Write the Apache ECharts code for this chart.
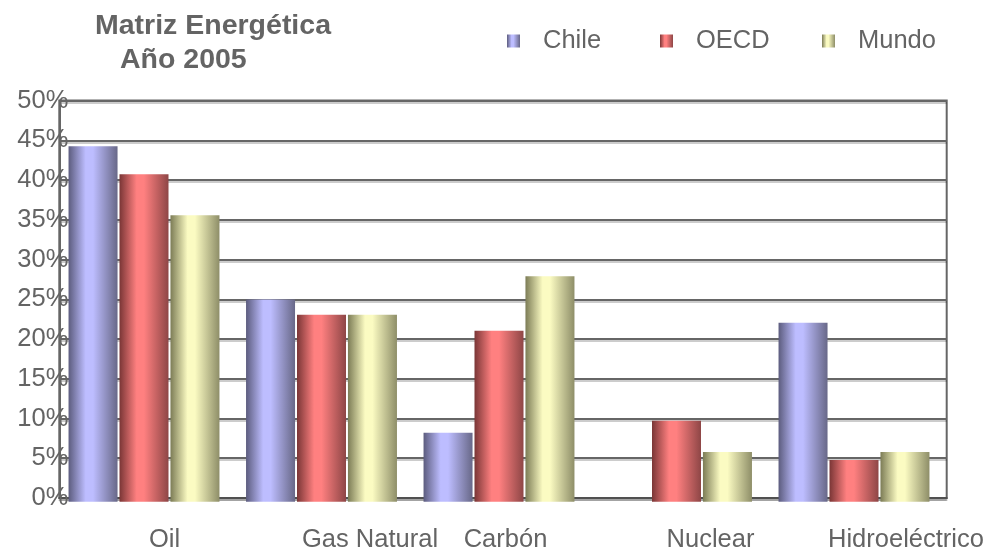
<!DOCTYPE html>
<html>
<head>
<meta charset="utf-8">
<title>Matriz Energética Año 2005</title>
<script src="https://cdn.jsdelivr.net/npm/echarts@6/dist/echarts.min.js"></script>
<style>
  html, body { margin: 0; padding: 0; background: #fff; }
  #chart { width: 992px; height: 553px; }
</style>
</head>
<body>
<div id="chart"></div>
<script>
// Energy mix by source, 2005 (share of total, %)
const categories = ['Oil', 'Gas Natural', 'Carbón', 'Nuclear', 'Hidroeléctrico'];
const seriesNames = ['Chile', 'OECD', 'Mundo'];
const chile = [44.3, 25.2, 8.6, 0, 22.3];
const oecd = [40.8, 23.3, 21.3, 10.1, 5.2];
const mundo = [35.7, 23.3, 28.1, 6.2, 6.2];
const yTicks = [0, 5, 10, 15, 20, 25, 30, 35, 40, 45, 50];

const FONT = 'Liberation Sans, Arial, sans-serif';
const TEXT = '#646464';
const LINE = '#666666';

// Horizontal cylinder-like shading for each series
function shade(dark, light, mid) {
  return new echarts.graphic.LinearGradient(0, 0, 1, 0, [
    { offset: 0, color: dark },
    { offset: 0.35, color: light },
    { offset: 0.5, color: light },
    { offset: 1, color: mid }
  ]);
}
const fills = [
  shade('#5c5c7e', '#bdbdff', '#686888'),
  shade('#7a3636', '#ff8080', '#8e4646'),
  shade('#7c7c56', '#fbfbc2', '#8e8e68')
];
const values = [chile, oecd, mundo];

// Per-label horizontal nudge of the category captions (px of left padding)
const labelShift = [33, 89, 5, 60, 96];
const rich = {};
labelShift.forEach((p, i) => {
  rich['c' + i] = { fontFamily: FONT, fontSize: 25.5, color: TEXT, padding: [0, 0, 0, p] };
});

const chart = echarts.init(document.getElementById('chart'), null, { renderer: 'canvas' });

const titleStyle = { fontFamily: FONT, fontWeight: 'bold', fontSize: 28.5, color: TEXT };

const option = {
  animation: false,
  backgroundColor: '#ffffff',
  title: [
    { text: 'Matriz Energética', left: 95, top: 12, padding: 0, textStyle: titleStyle },
    { text: 'Año 2005', left: 120, top: 46, padding: 0, textStyle: titleStyle }
  ],
  legend: seriesNames.map((name, i) => ({
    data: [name],
    left: [507, 660, 822][i],
    top: 28,
    padding: 0,
    icon: 'rect',
    itemWidth: 13,
    itemHeight: 13,
    textStyle: { fontFamily: FONT, fontSize: 25.5, color: TEXT, padding: [2, 0, 0, 18] }
  })),
  grid: [
    { left: 59.3, right: 45.3, top: 100.5, bottom: 51.3, show: true,
      borderColor: LINE, borderWidth: 2, backgroundColor: 'transparent' },
    { left: 55.25, right: 49.25, top: 100.5, bottom: 51.3 }
  ],
  xAxis: [
    {
      gridIndex: 0, type: 'category', data: categories,
      axisLine: { show: true, lineStyle: { color: '#505050', width: 2,
        shadowColor: 'rgba(0,0,0,0.2)', shadowOffsetY: 2 } },
      axisTick: { show: false },
      axisLabel: {
        interval: 0, margin: 29,
        formatter: (v, i) => '{c' + i + '|' + v + '}',
        rich: rich
      }
    },
    { gridIndex: 1, type: 'category', data: categories, show: false }
  ],
  yAxis: [
    {
      gridIndex: 0, type: 'value', min: 0, max: 50, interval: 5,
      axisLine: { show: true, lineStyle: { color: LINE, width: 2 } },
      axisTick: { show: false },
      splitLine: { show: true, lineStyle: { color: LINE, width: 2,
        shadowColor: 'rgba(0,0,0,0.2)', shadowOffsetY: 2 } },
      axisLabel: {
        margin: -9,
        fontFamily: FONT, fontSize: 25.5, color: TEXT,
        padding: [4, 0, 0, 0],
        formatter: v => (yTicks.indexOf(v) >= 0 ? v + '%' : '')
      }
    },
    { gridIndex: 1, type: 'value', min: 0, max: 50, show: false }
  ],
  series: seriesNames.map((name, i) => ({
    name: name,
    type: 'bar',
    xAxisIndex: 1,
    yAxisIndex: 1,
    data: values[i],
    barWidth: 49,
    barGap: '4%',
    itemStyle: { color: fills[i] },
    z: 5
  }))
};

chart.setOption(option);
</script>
</body>
</html>
